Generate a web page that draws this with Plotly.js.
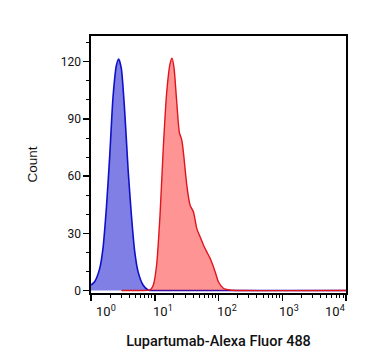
<!DOCTYPE html>
<html>
<head>
<meta charset="utf-8">
<script src="https://cdn.plot.ly/plotly-3.0.1.min.js"></script>
<style>html,body{margin:0;padding:0;background:#fff;}#chart{width:367px;height:364px;}</style>
</head>
<body>
<div id="chart"></div>
<script>
// Isotype / unstained control (blue)
var blueX = [1.0, 1.14, 1.37, 1.54, 1.74, 1.97, 2.21, 2.50, 2.72, 2.99, 3.38, 3.81, 4.30, 4.85, 5.47, 6.55, 7.85, 10.1, 17.4, 100, 10000];
var blueY = [2.9, 4.6, 11.6, 22, 43, 71, 101, 118, 121.4, 116.5, 93.8, 64, 39.6, 20.4, 9.9, 2.9, 0.3, 0, 0, 0, 0];
// Lupartumab-Alexa Fluor 488 stained (red)
var redX = [3.0, 5.88, 8.44, 9.5, 10.7, 12.1, 13.6, 15.4, 17.4, 18.7, 20.1, 22.1, 24.3, 26.5, 28.1, 31.8, 35.8, 40.4, 45.6, 51.4, 58.0, 65.5, 73.8, 88.5, 99.6, 119, 152, 219, 10000];
var redY = [0, 0, 0.3, 2.9, 13.4, 39.6, 74.6, 104, 119, 121.8, 116.5, 99, 83, 79, 72.8, 55.3, 44.8, 41.3, 32.6, 28.2, 23.9, 20.3, 16.9, 9.9, 4.6, 1.2, 0.3, 0, 0];

var xTickVals = [1, 10, 100, 1000, 10000];
var xTickText = ['10<sup>0</sup>', '10<sup>1</sup>', '10<sup>2</sup>', '10<sup>3</sup>', '10<sup>4</sup>'];
var xLabelShift = [15, 8, 8, 7, -11];
var yTickVals = [0, 30, 60, 90, 120];
var xTitle = 'Lupartumab-Alexa Fluor 488';
var yTitle = 'Count';

var minorX = [];
for (var d = 0; d < 4; d++) { for (var m = 2; m <= 9; m++) { minorX.push(m * Math.pow(10, d)); } }

var traces = [
  {x: blueX, y: blueY, type: 'scatter', mode: 'lines', line: {color: '#1010c8', width: 1.6, shape: 'spline', smoothing: 0.6},
   fill: 'tozeroy', fillcolor: 'rgba(0,0,205,0.5)', hoverinfo: 'skip'},
  {x: redX, y: redY, type: 'scatter', mode: 'lines', line: {color: '#e0141c', width: 1.4, shape: 'spline', smoothing: 0.6},
   fill: 'tozeroy', fillcolor: 'rgba(255,0,0,0.42)', hoverinfo: 'skip'}
];

var annotations = xTickVals.map(function (v, i) {
  return {x: Math.log10(v), xref: 'x', y: 0, yref: 'paper', yanchor: 'top', xanchor: 'center',
          yshift: -8, xshift: xLabelShift[i], text: xTickText[i], showarrow: false,
          font: {family: 'Roboto', size: 13, color: '#111'}};
});

var layout = {
  width: 367, height: 364,
  margin: {l: 91, r: 21, t: 36, b: 71, pad: 0},
  paper_bgcolor: '#fff', plot_bgcolor: '#fff',
  showlegend: false,
  xaxis: {
    type: 'log', range: [0, 4], autorange: false,
    tickmode: 'array', tickvals: xTickVals, showticklabels: false,
    ticks: 'outside', ticklen: 6, tickwidth: 1.5, tickcolor: '#000',
    minor: {tickmode: 'array', tickvals: minorX, ticks: 'outside', ticklen: 3, tickwidth: 1, tickcolor: '#000', showgrid: false},
    showline: true, linecolor: '#000', linewidth: 1.6, mirror: true,
    showgrid: false, zeroline: false,
    title: {text: xTitle, font: {family: 'Roboto', size: 14.5, color: '#111', weight: 500}, standoff: 36}
  },
  yaxis: {
    range: [-1.3, 133.5], autorange: false,
    tickmode: 'array', tickvals: yTickVals,
    ticks: 'outside', ticklen: 6, tickwidth: 1.5, tickcolor: '#000',
    minor: {dtick: 10, tick0: 0, ticks: 'outside', ticklen: 3, tickwidth: 1, tickcolor: '#000', showgrid: false},
    showline: true, linecolor: '#000', linewidth: 1.6, mirror: true,
    showgrid: false, zeroline: false,
    tickfont: {family: 'Roboto', size: 12, color: '#111'},
    title: {text: yTitle, font: {family: 'Liberation Sans, Arial', size: 13.5, color: '#111'}, standoff: 20}
  },
  annotations: annotations
};

Plotly.newPlot('chart', traces, layout, {staticPlot: true, displayModeBar: false});
</script>
</body>
</html>
